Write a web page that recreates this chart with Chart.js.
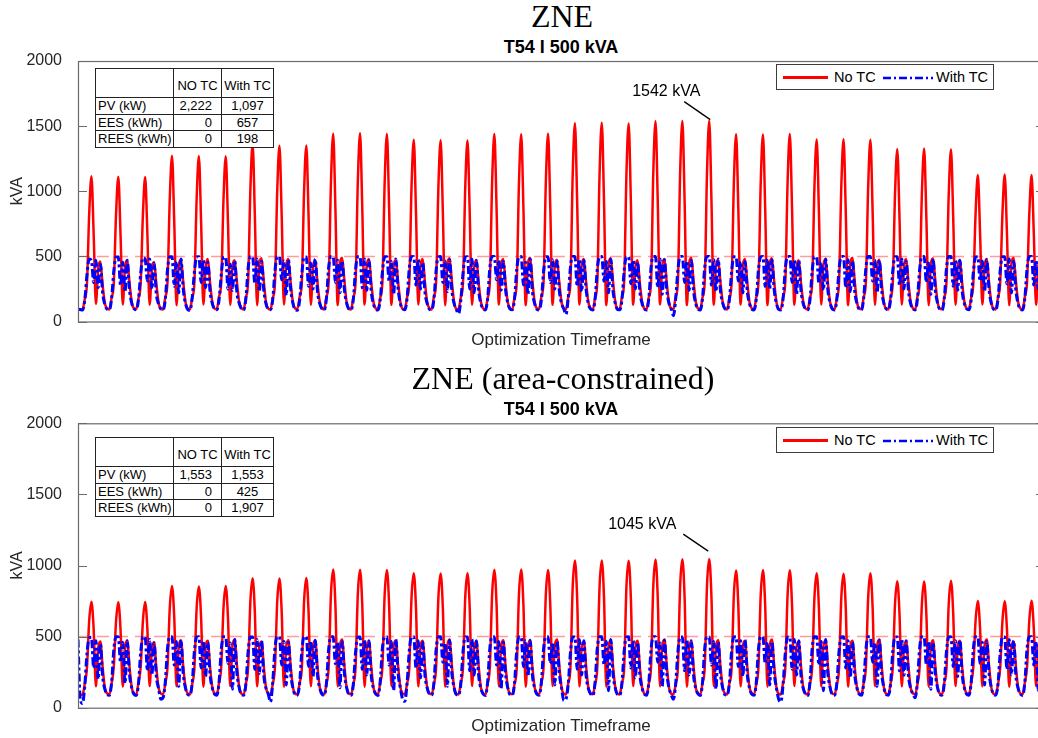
<!DOCTYPE html>
<html>
<head>
<meta charset="utf-8">
<title>ZNE transformer loading</title>
<script src="https://cdn.jsdelivr.net/npm/chart.js@4.4.1/dist/chart.umd.min.js"></script>
<style>
  html, body { margin: 0; padding: 0; background: #fff; }
  body {
    width: 1038px; height: 738px; overflow: hidden; position: relative;
    font-family: "Liberation Sans", Arial, Helvetica, sans-serif; color: #000;
  }
  canvas { position: absolute; left: 0; }
  .abs { position: absolute; white-space: nowrap; }
  .title { font-family: "Liberation Serif", "Times New Roman", serif; font-size: 32px; line-height: 32px; transform: translateX(-50%); }
  .subtitle { font-weight: bold; font-size: 18px; line-height: 18px; transform: translateX(-50%); }
  .xlabel { font-size: 17px; line-height: 17px; transform: translateX(-50%); color: #262626; }

  .legend { border: 1px solid #3c3c3c; background: #fff; width: 216px; height: 24px; font-size: 14.5px; }
  .legend span { position: absolute; top: 4px; line-height: 16px; }
  .legend .solid { position: absolute; left: 6px; top: 11px; width: 45px; height: 2.5px; background: #ff0000; }
  .legend svg { position: absolute; left: 106px; top: 10px; }

  table.stats { position: absolute; left: 95px; border-collapse: collapse; table-layout: fixed; font-size: 13px; background: #fff; }
  table.stats td { border: 1px solid #222; padding: 0; line-height: 14px; }
  table.stats td.name { padding-left: 2px; }
  table.stats td.num { text-align: right; padding-right: 9px; }
  table.stats td.mid { text-align: center; }
  table.stats tr.head td { vertical-align: bottom; padding-bottom: 4px; text-align: center; }
</style>
</head>
<body>

<div class="abs title" style="left:562px; top:0px;">ZNE</div>
<div class="abs subtitle" style="left:561px; top:38px;">T54 I 500 kVA</div>
<canvas id="chartZne" width="1050" height="360" style="top:0px;"></canvas>
<div class="abs xlabel" style="left:561px; top:331px;">Optimization Timeframe</div>

<div class="abs title" style="left:563px; top:362px;">ZNE (area-constrained)</div>
<div class="abs subtitle" style="left:561px; top:400px;">T54 I 500 kVA</div>
<canvas id="chartZneArea" width="1050" height="378" style="top:360px;"></canvas>
<div class="abs xlabel" style="left:561px; top:717px;">Optimization Timeframe</div>

<!-- legends -->
<div class="abs legend" style="left:776px; top:64px;">
  <div class="solid"></div><span style="left:57px;">No TC</span>
  <svg width="50" height="6"><line x1="0" y1="3" x2="50" y2="3" stroke="#0000ff" stroke-width="2.5" stroke-dasharray="8 3 2 3"/></svg>
  <span style="left:159px;">With TC</span>
</div>
<div class="abs legend" style="left:776px; top:427px;">
  <div class="solid"></div><span style="left:57px;">No TC</span>
  <svg width="50" height="6"><line x1="0" y1="3" x2="50" y2="3" stroke="#0000ff" stroke-width="2.5" stroke-dasharray="8 3 2 3"/></svg>
  <span style="left:159px;">With TC</span>
</div>

<!-- sizing tables -->
<table class="stats" id="tableZne" style="top:68px;"></table>
<table class="stats" id="tableZneArea" style="top:437px;"></table>

<script>
/* ── TIME AXIS: 36 days in 2-hour steps ───────────────────── */
const hours = [];
for (let h = 0; h < 864; h += 2) hours.push(h);

const ratingKva = 500;
const yTicks = [0, 500, 1000, 1500, 2000];

/* ── SIZING TABLES ────────────────────────────────────────── */
const tableRows = ['PV (kW)', 'EES (kWh)', 'REES (kWh)'];
const tableCols = ['NO TC', 'With TC'];
const zneNoTcSizes = ['2,222', '0', '0'];
const zneWithTcSizes = ['1,097', '657', '198'];
const areaNoTcSizes = ['1,553', '0', '0'];
const areaWithTcSizes = ['1,553', '425', '1,907'];

/* ── ZNE: transformer kVA, no TC (one row per day) ────────── */
const zneNoTc = [
  95,90,92,170,290,825,1115,670,135,410,460,280,
  140,98,92,180,300,823,1112,667,130,420,470,300,
  150,100,94,175,295,821,1110,666,128,400,455,290,
  145,98,93,185,310,941,1272,763,125,430,475,310,
  150,100,92,180,300,940,1270,762,130,415,480,295,
  148,99,94,190,305,938,1268,761,128,425,470,300,
  150,100,93,185,310,1008,1362,817,125,440,485,310,
  145,98,92,180,300,999,1350,810,130,430,480,300,
  150,100,94,188,305,1000,1352,811,128,420,470,295,
  152,100,93,190,310,1067,1442,865,125,445,490,315,
  148,98,92,185,300,1069,1445,867,130,430,480,300,
  150,100,94,180,305,1066,1440,864,128,425,475,305,
  150,99,93,185,300,1032,1395,837,130,430,480,300,
  148,100,92,190,310,1030,1392,835,125,440,485,310,
  150,98,94,185,300,1029,1390,834,128,420,470,295,
  152,100,93,180,305,1066,1440,864,130,430,480,300,
  148,99,92,185,300,1064,1438,863,125,445,490,310,
  150,100,94,190,310,1067,1442,865,128,425,475,305,
  150,98,93,185,300,1126,1522,913,130,430,480,300,
  148,100,92,180,305,1128,1525,915,125,440,485,310,
  152,99,94,188,310,1125,1520,912,128,420,470,295,
  150,100,93,185,300,1138,1538,923,130,430,480,300,
  148,98,92,190,305,1140,1540,924,125,445,490,310,
  150,100,94,185,310,1141,1542,925,128,425,475,305,
  150,99,93,180,300,1064,1438,863,130,430,480,300,
  148,100,92,185,305,1063,1436,862,125,440,485,310,
  152,98,94,190,310,1066,1440,864,128,420,470,295,
  150,100,93,185,300,1035,1398,839,130,430,480,300,
  148,99,92,180,305,1036,1400,840,125,445,490,310,
  150,100,94,188,310,1033,1396,838,128,425,475,305,
  150,98,93,185,300,980,1325,795,130,430,480,300,
  148,100,92,190,305,983,1328,797,125,440,485,310,
  152,99,94,185,310,978,1322,793,128,420,470,295,
  150,100,93,180,300,833,1125,675,130,430,480,300,
  148,98,92,185,305,835,1128,677,125,445,490,310,
  150,100,94,190,310,832,1124,674,128,425,475,305
];

/* ── ZNE: transformer kVA, with TC ────────────────────────── */
const zneWithTc = [
  95,92,88,160,360,480,470,300,470,260,440,220,
  130,95,90,175,390,495,495,280,455,230,470,240,
  140,98,90,165,370,490,480,310,480,250,450,210,
  135,96,88,170,400,498,498,270,460,220,480,250,
  140,92,85,180,380,495,497,300,470,260,455,230,
  138,97,90,165,360,492,495,250,440,240,470,220,
  142,98,89,175,410,498,498,290,480,230,460,240,
  136,95,90,170,390,497,498,320,465,200,475,250,
  140,90,86,160,370,495,496,270,450,250,480,230,
  138,97,89,180,420,499,499,300,470,220,465,245,
  142,96,90,170,400,498,499,260,480,240,470,230,
  135,93,88,165,380,497,498,310,460,210,480,250,
  140,98,90,175,410,499,498,280,475,250,455,225,
  138,95,89,170,395,498,499,300,465,230,475,240,
  140,92,60,160,370,496,497,250,480,220,470,235,
  136,97,88,175,415,499,499,320,470,240,460,245,
  142,96,90,170,400,498,499,280,455,210,480,230,
  138,94,89,165,385,497,498,300,475,250,465,240,
  140,98,55,180,420,499,499,270,480,230,470,245,
  136,95,88,170,405,498,499,310,460,220,480,235,
  142,93,90,165,390,497,498,290,470,250,455,230,
  138,97,89,175,415,499,499,260,480,210,475,245,
  140,96,45,170,400,498,499,300,465,240,470,235,
  136,94,88,180,420,499,499,280,475,230,480,240,
  142,98,90,165,385,497,498,310,460,220,460,230,
  138,95,89,170,400,498,499,270,480,250,475,245,
  140,93,88,175,410,499,499,300,470,210,470,235,
  136,97,90,165,390,497,498,290,455,240,480,240,
  142,96,89,170,405,498,499,260,475,230,465,230,
  138,94,88,180,415,499,499,310,470,220,470,245,
  140,98,90,165,390,497,498,280,480,250,460,235,
  136,95,89,170,400,498,499,300,460,210,480,240,
  142,93,88,175,410,499,499,270,470,240,470,230,
  138,97,90,165,380,496,497,310,465,230,475,245,
  140,96,89,170,395,498,498,290,480,220,460,235,
  136,94,88,180,410,499,499,280,470,250,480,240
];

/* ── ZNE (area-constrained): no TC ────────────────────────── */
const areaNoTc = [
  100,90,92,165,280,611,745,551,150,420,465,285,
  140,100,93,170,290,608,742,549,148,430,470,290,
  145,98,92,175,285,610,744,551,152,415,460,280,
  140,100,94,170,290,701,855,633,150,430,475,295,
  145,99,92,165,280,699,852,630,148,420,470,285,
  142,100,93,175,290,702,856,633,152,435,480,300,
  145,98,92,170,285,746,910,673,150,425,465,290,
  140,100,94,165,290,745,908,672,148,430,475,295,
  145,99,93,175,280,748,912,675,152,420,470,285,
  142,100,92,170,290,797,972,719,150,435,480,300,
  145,98,94,165,285,795,970,718,148,425,465,290,
  140,100,93,175,290,794,968,716,152,430,475,295,
  145,99,92,170,280,775,945,699,150,420,470,285,
  142,100,94,165,290,774,944,699,148,435,480,300,
  145,98,93,175,285,776,946,700,152,425,465,290,
  140,100,92,170,290,795,970,718,150,430,475,295,
  145,99,94,165,280,797,972,719,148,420,470,285,
  142,100,93,175,290,794,968,716,152,435,480,300,
  145,98,92,170,285,849,1035,766,150,425,465,290,
  140,100,94,165,290,850,1036,767,148,430,475,295,
  145,99,93,175,280,848,1034,765,152,420,470,285,
  142,100,92,170,290,854,1042,771,150,435,480,300,
  145,98,94,165,285,856,1044,773,148,425,465,290,
  140,100,93,175,290,857,1045,773,152,430,475,295,
  145,99,92,170,280,791,965,714,150,420,470,285,
  142,100,94,165,290,794,968,716,148,435,480,300,
  145,98,93,175,285,792,966,715,152,425,465,290,
  140,100,92,170,290,775,945,699,150,430,475,295,
  145,99,94,165,280,772,942,697,148,420,470,285,
  142,100,93,175,290,776,946,700,152,435,480,300,
  145,98,92,170,285,730,890,659,150,425,465,290,
  140,100,94,165,290,728,888,657,148,430,475,295,
  145,99,93,175,280,731,892,660,152,420,470,285,
  142,100,92,170,290,615,750,555,150,435,480,300,
  145,98,94,165,285,613,748,554,148,425,465,290,
  140,100,93,175,290,617,752,556,152,430,475,295
];

/* ── ZNE (area-constrained): with TC ──────────────────────── */
const areaWithTc = [
  480,60,30,150,380,490,495,280,470,200,450,220,
  130,92,88,175,410,499,499,320,460,170,470,235,
  140,95,86,165,390,498,498,260,480,230,455,220,
  135,60,70,180,420,499,499,300,465,150,475,240,
  140,94,88,170,400,498,499,280,470,220,460,230,
  138,95,87,175,410,499,499,310,455,130,480,245,
  142,93,88,165,395,498,498,270,480,240,470,225,
  136,96,40,180,420,499,499,300,465,160,460,240,
  140,92,88,170,400,498,499,290,470,220,475,230,
  138,95,87,175,415,499,499,310,460,140,465,245,
  142,94,88,165,390,498,498,270,480,230,470,225,
  136,96,86,180,420,499,499,300,465,120,480,240,
  140,60,45,170,400,498,499,280,470,210,460,230,
  138,95,87,175,410,499,499,320,455,150,475,245,
  142,93,88,165,395,498,498,260,480,230,470,225,
  136,96,86,180,420,499,499,300,465,130,460,240,
  140,92,88,170,400,498,499,290,470,220,475,230,
  138,95,87,175,415,499,499,310,460,160,465,245,
  142,50,60,165,390,498,498,270,480,230,470,225,
  136,96,86,180,420,499,499,300,465,120,480,240,
  140,92,88,170,400,498,499,280,470,210,460,230,
  138,95,87,175,410,499,499,320,455,150,475,245,
  142,93,60,165,395,498,498,260,480,230,470,225,
  136,96,86,180,420,499,499,300,465,130,460,240,
  140,92,88,170,400,498,499,290,470,220,475,230,
  138,95,87,175,415,499,499,310,460,160,465,245,
  142,60,40,165,390,498,498,270,480,230,470,225,
  136,96,86,180,420,499,499,300,465,120,480,240,
  140,92,88,170,400,498,499,280,470,210,460,230,
  138,95,87,175,410,499,499,320,455,150,475,245,
  142,93,88,165,395,498,498,260,480,230,470,225,
  136,96,70,180,420,499,499,300,465,130,460,240,
  140,92,88,170,400,498,499,290,470,220,475,230,
  138,95,87,175,415,499,499,310,460,160,465,245,
  142,94,88,165,390,498,498,270,480,230,470,225,
  136,96,86,180,420,499,499,300,465,120,480,240
];

/* ── TABLE BUILDER ────────────────────────────────────────── */
function fillTable(id, noTc, withTc) {
  const t = document.getElementById(id);
  const rowH = [29, 17, 16, 17];
  let html = '<colgroup><col style="width:78px"><col style="width:48px"><col style="width:52px"></colgroup>';
  html += `<tr class="head" style="height:${rowH[0]}px"><td></td><td>${tableCols[0]}</td><td>${tableCols[1]}</td></tr>`;
  tableRows.forEach((name, i) => {
    html += `<tr style="height:${rowH[i + 1]}px"><td class="name">${name}</td>` +
            `<td class="num">${noTc[i]}</td><td class="mid">${withTc[i]}</td></tr>`;
  });
  t.innerHTML = html;
}
fillTable('tableZne', zneNoTcSizes, zneWithTcSizes);
fillTable('tableZneArea', areaNoTcSizes, areaWithTcSizes);

/* ── PLUGINS ──────────────────────────────────────────────── */
// dashed transformer rating line, under the load traces
const ratingLine = {
  id: 'ratingLine',
  beforeDatasetsDraw(chart) {
    const { ctx, chartArea: a, scales: { y } } = chart;
    const py = y.getPixelForValue(ratingKva);
    ctx.save();
    ctx.strokeStyle = 'rgba(255,60,60,0.5)';
    ctx.lineWidth = 1.5;
    ctx.setLineDash([12, 7]);
    ctx.beginPath();
    ctx.moveTo(a.left, py);
    ctx.lineTo(a.right, py);
    ctx.stroke();
    ctx.restore();
  }
};

// MATLAB-style box with inward ticks
const axesBox = {
  id: 'axesBox',
  afterDraw(chart) {
    const { ctx, chartArea: a, scales: { y } } = chart;
    ctx.save();
    ctx.strokeStyle = '#6a6a6a';
    ctx.lineWidth = 1.2;
    ctx.strokeRect(a.left + 0.5, a.top + 0.5, a.right - a.left, a.bottom - a.top);
    ctx.beginPath();
    yTicks.forEach(v => {
      const py = Math.round(y.getPixelForValue(v)) + 0.5;
      ctx.moveTo(a.left, py); ctx.lineTo(a.left + 9, py);
      ctx.moveTo(a.right - 9, py); ctx.lineTo(a.right, py);
    });
    ctx.stroke();
    ctx.restore();
  }
};

// callout on the highest No TC peak
const peakCallout = {
  id: 'peakCallout',
  afterDatasetsDraw(chart, args, opts) {
    const data = chart.data.datasets[opts.datasetIndex].data;
    let best = 0;
    data.forEach((p, i) => { if (p.y > data[best].y) best = i; });
    const el = chart.getDatasetMeta(opts.datasetIndex).data[best];
    const { ctx } = chart;
    ctx.save();
    ctx.strokeStyle = '#000';
    ctx.lineWidth = 1.3;
    ctx.beginPath();
    ctx.moveTo(el.x + opts.line[0], el.y + opts.line[1]);
    ctx.lineTo(el.x + opts.line[2], el.y + opts.line[3]);
    ctx.stroke();
    ctx.fillStyle = '#000';
    ctx.font = '16px "Liberation Sans", Arial, sans-serif';
    ctx.textAlign = 'center';
    ctx.textBaseline = 'middle';
    ctx.fillText(data[best].y + ' kVA', el.x + opts.text[0], el.y + opts.text[1]);
    ctx.restore();
  }
};

/* ── LOAD CHART ───────────────────────────────────────────── */
function renderLoadChart(canvasId, noTc, withTc, padTop, padBottom, callout) {
  const ctx = document.getElementById(canvasId);
  const toPoints = vals => vals.map((v, i) => ({ x: hours[i], y: v }));

  return new Chart(ctx, {
    type: 'line',
    data: {
      datasets: [
        {
          label: 'No TC',
          data: toPoints(noTc),
          borderColor: '#ff0000',
          borderWidth: 2.5,
          pointRadius: 0,
          cubicInterpolationMode: 'monotone',
          order: 2
        },
        {
          label: 'With TC',
          data: toPoints(withTc),
          borderColor: '#0000ff',
          borderWidth: 3,
          borderDash: [8, 3, 3, 3],
          pointRadius: 0,
          cubicInterpolationMode: 'monotone',
          order: 1
        }
      ]
    },
    options: {
      responsive: false,
      animation: false,
      devicePixelRatio: 1,
      events: [],
      layout: { padding: { top: padTop, bottom: padBottom, left: 0, right: 5 } },
      plugins: {
        legend: { display: false },
        tooltip: { enabled: false },
        peakCallout: callout
      },
      scales: {
        x: { type: 'linear', min: 0, max: 864, display: false },
        y: {
          min: 0, max: 2000,
          afterFit: s => { s.width = 78; },
          grid: { display: false },
          border: { display: false },
          ticks: {
            stepSize: 500, padding: 8, color: '#262626', font: { size: 16 },
            callback: val => String(val)
          },
          title: {
            display: true, text: 'kVA', color: '#262626',
            font: { size: 16 }, padding: { top: 8, bottom: 0 }
          }
        }
      }
    },
    plugins: [ratingLine, axesBox, peakCallout]
  });
}

Chart.defaults.font.family = '"Liberation Sans", Arial, Helvetica, sans-serif';

renderLoadChart('chartZne', zneNoTc, zneWithTc, 61, 38.5,
  { datasetIndex: 0, line: [-25, -19, 1, -1], text: [-43, -29] });
renderLoadChart('chartZneArea', areaNoTc, areaWithTc, 63.3, 30.3,
  { datasetIndex: 0, line: [-26, -25, -1, -8], text: [-67, -35] });
</script>
</body>
</html>
